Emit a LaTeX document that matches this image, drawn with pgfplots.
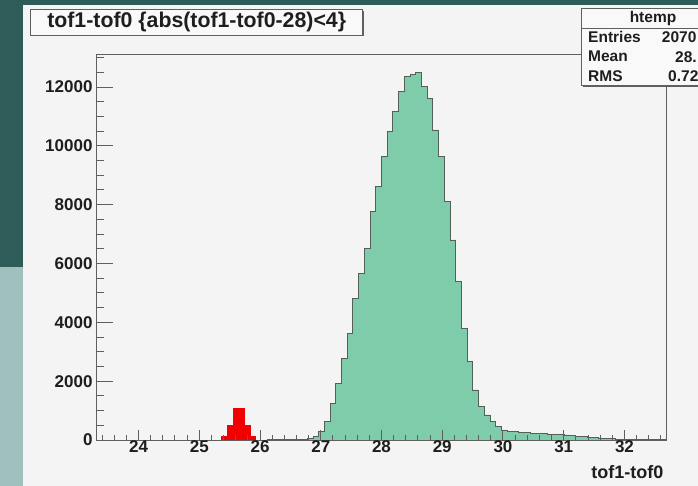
\documentclass[border=0pt]{standalone}
\usepackage{fontspec}
\setmainfont{Liberation Sans}
\usepackage{pgfplots}
\pgfplotsset{compat=1.18}
\definecolor{bgc}{RGB}{244,244,244}
\definecolor{tealdark}{RGB}{46,92,88}
\definecolor{teallight}{RGB}{160,192,189}
\definecolor{histgreen}{RGB}{126,204,170}
\definecolor{histline}{RGB}{85,95,90}
\definecolor{framec}{RGB}{95,95,95}
\definecolor{txt}{RGB}{30,30,30}
\definecolor{boxfill}{RGB}{249,249,249}
\definecolor{histred}{RGB}{240,0,0}
\begin{document}
\begin{tikzpicture}[font=\bfseries]
\useasboundingbox (0,0) rectangle (698bp,486bp);
\fill[bgc] (0,0) rectangle (698bp,486bp);
\fill[teallight] (0,0) rectangle (23bp,219bp);
\fill[tealdark] (0,219bp) rectangle (23bp,486bp);
\fill[tealdark] (0,481bp) rectangle (698bp,486bp);
\begin{axis}[
  at={(96bp,46bp)}, anchor=south west,
  scale only axis, width=571bp, height=385bp,
  xmin=23.3, xmax=32.7, ymin=0, ymax=13090,
  axis on top,
  axis line style={framec, line width=1bp},
  tick align=inside, tick pos=left,
  xtick={24,...,32}, ytick={0,2000,...,12000},
  minor xtick={23.4,23.6,...,32.61},
  minor ytick={500,1000,...,13000},
  scaled y ticks=false, scaled x ticks=false,
  tick style={framec, line width=1bp},
  xtick style={/pgfplots/major tick length=10bp,/pgfplots/minor tick length=5bp},
  ytick style={/pgfplots/major tick length=17bp,/pgfplots/minor tick length=8bp},
  /pgf/number format/assume math mode=true,
  /pgf/number format/1000 sep={},
  yticklabel={\pgfmathprintnumber[fixed,precision=0,1000 sep={}]{\tick}},
  ticklabel style={font=\bfseries\fontsize{17bp}{17bp}\selectfont, text=txt},
  xticklabel style={yshift=3bp},
  xlabel={tof1-tof0},
  every axis x label/.style={at={(axis description cs:1,0)}, anchor=east, yshift=-31.7bp, font=\bfseries\fontsize{18bp}{18bp}\selectfont, text=txt},
]
\addplot[const plot, fill=histgreen, draw=histline, line width=0.9bp] coordinates {
(26.120,5) (26.214,5) (26.308,10) (26.402,10) (26.496,15) (26.590,20)
(26.684,30) (26.778,50) (26.872,110) (26.966,300)
(27.060,620) (27.154,1250) (27.248,1920) (27.342,2780) (27.436,3630)
(27.530,4820) (27.624,5670) (27.718,6520) (27.812,7760) (27.906,8610)
(28.000,9630) (28.094,10480) (28.188,11160) (28.282,11840) (28.376,12370)
(28.470,12430) (28.564,12510) (28.658,12010) (28.752,11610) (28.846,10540)
(28.940,9630) (29.034,8100) (29.128,6800) (29.222,5380) (29.316,3800)
(29.410,2660) (29.504,1700) (29.598,1130) (29.692,850) (29.786,620)
(29.880,450) (29.974,340) (30.068,300) (30.162,280) (30.256,260)
(30.350,240) (30.444,230) (30.538,220) (30.632,210) (30.726,200)
(30.820,190) (30.914,180) (31.008,170) (31.102,150) (31.196,130)
(31.290,110) (31.384,90) (31.478,70) (31.572,60) (31.666,50)
(31.760,40) (31.854,30) (31.948,20) (32.042,15) (32.136,10)
(32.230,8) (32.324,5) (32.418,5) (32.512,3) (32.606,3) (32.700,3)
} \closedcycle;
\addplot[const plot, fill=histred, draw=histred, line width=0.8bp] coordinates {
(25.274,0) (25.368,130) (25.462,500) (25.556,1080) (25.650,1070)
(25.744,490) (25.838,130) (25.932,0)
} \closedcycle;
\end{axis}
% title box
\fill[framec] (32.2bp,449.5bp) rectangle (364.2bp,475.2bp);
\node[draw=framec, line width=1bp, fill=boxfill, minimum width=332bp, minimum height=25.7bp, inner sep=0pt, anchor=center,
      font=\bfseries\fontsize{21.3bp}{21.3bp}\selectfont, text=txt] at (196.7bp,463.8bp)
      {tof1-tof0 \{abs(tof1-tof0-28)<4\}};
% stats box
\fill[framec] (583.2bp,398.5bp) rectangle (732bp,476.2bp);
\draw[framec, line width=1bp, fill=boxfill] (581.7bp,400bp) rectangle (730bp,477.7bp);
\draw[framec, line width=1bp] (581.7bp,457.7bp) -- (730bp,457.7bp);
\begin{scope}[every node/.style={font=\bfseries\fontsize{15.5bp}{15.5bp}\selectfont, text=txt, inner sep=0pt}]
\node[anchor=center] at (653bp,467.5bp) {htemp};
\node[anchor=west] at (588bp,449.3bp) {Entries};
\node[anchor=west] at (588bp,429.3bp) {Mean};
\node[anchor=west] at (588bp,410bp) {RMS};
\node[anchor=west] at (661.7bp,449.3bp) {2070};
\node[anchor=west] at (675bp,429.3bp) {28.};
\node[anchor=west] at (668bp,410bp) {0.72};
\end{scope}
\end{tikzpicture}
\end{document}
